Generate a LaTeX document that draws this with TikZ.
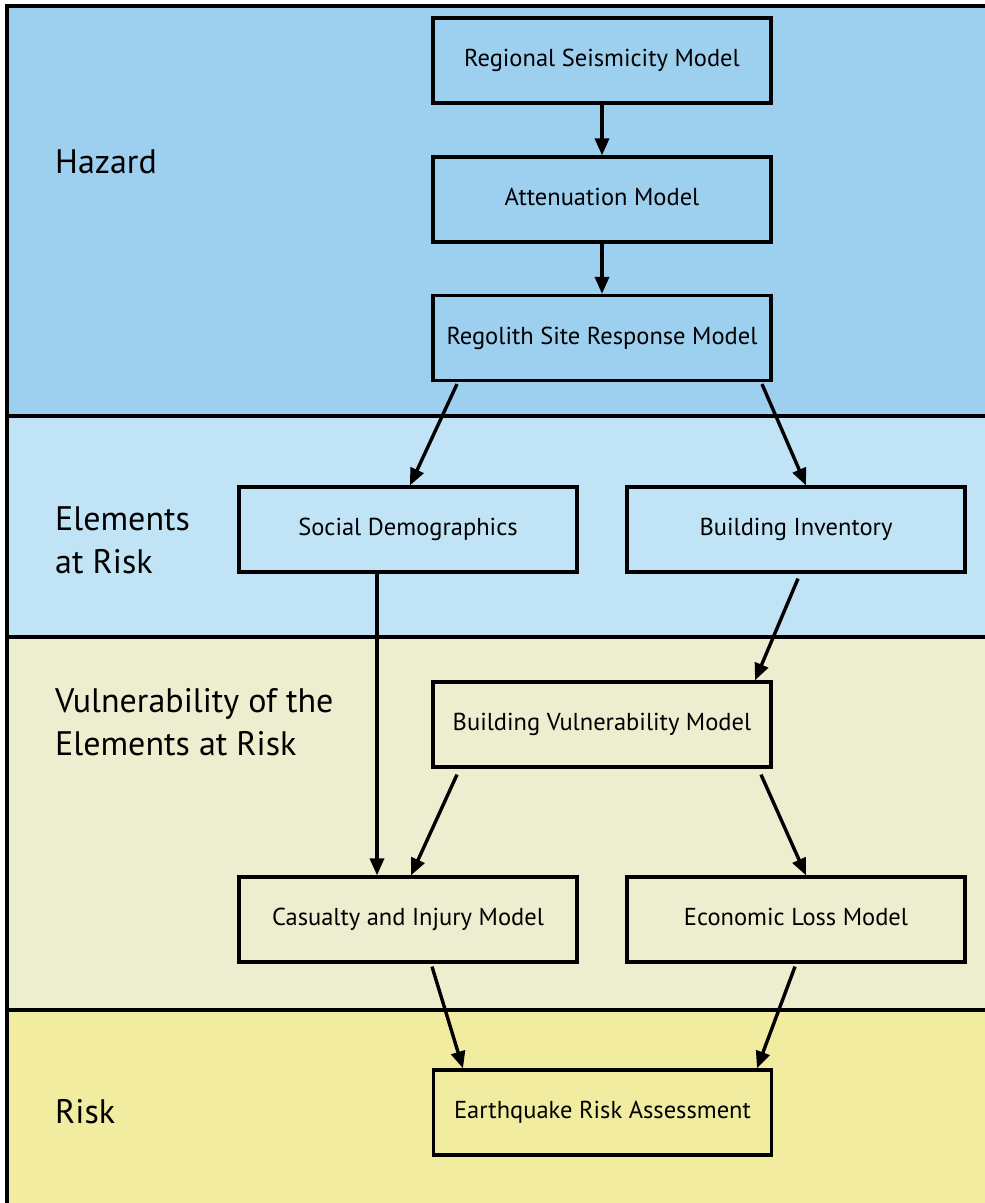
\documentclass[tikz,border=0pt]{standalone}
\usepackage{fontspec}
\setmainfont{PT Sans}
\usetikzlibrary{arrows.meta}
\definecolor{hazc}{RGB}{157,207,238}
\definecolor{elc}{RGB}{192,227,245}
\definecolor{vulc}{RGB}{237,238,208}
\definecolor{riskc}{RGB}{241,236,160}
\tikzset{
  box/.style={draw=black, line width=3.2pt, minimum width=338, minimum height=85, inner sep=0pt, font=\fontsize{24.5}{28}\selectfont, text height=17pt, text depth=5pt},
  lbl/.style={anchor=base west, inner sep=0pt, align=left, font=\fontsize{34}{43}\selectfont},
  arr/.style={line width=3.4pt, -{Triangle[length=17pt,width=14pt]}},
  band/.style={line width=3.2pt}
}
\begin{document}
\begin{tikzpicture}[x=1pt,y=-1pt]
\useasboundingbox (0,0) rectangle (985,1203);
% bands
\fill[hazc] (7,6) rectangle (985,416);
\fill[elc] (7,416) rectangle (985,637);
\fill[vulc] (7,637) rectangle (985,1010);
\fill[riskc] (7,1010) rectangle (985,1203);
\draw[band] (985,6) -- (7,6) -- (7,1203);
\draw[band] (7,416) -- (985,416);
\draw[band] (7,637) -- (985,637);
\draw[band] (7,1010) -- (985,1010);
% labels
\node[lbl] (lhaz) at (55,173) {Hazard};
\node[lbl] (lel) at (55,573) {Elements\\at Risk};
\node[lbl] (lvul) at (55,755) {Vulnerability of the\\Elements at Risk};
\node[lbl] (lrisk) at (55,1123) {Risk};
% boxes
\node[box] (r1) at (602,60.5) {Regional Seismicity Model};
\node[box] (r2) at (602,199.5) {Attenuation Model};
\node[box] (r3) at (602,338) {Regolith Site Response Model};
\node[box] (sd) at (408,529.5) {Social Demographics};
\node[box] (bi) at (796,529.5) {Building Inventory};
\node[box] (bv) at (602,724.5) {Building Vulnerability Model};
\node[box] (ci) at (408,919.5) {Casualty and Injury Model};
\node[box] (el) at (796,919.5) {Economic Loss Model};
\node[box] (era) at (602.5,1112.5) {Earthquake Risk Assessment};
% arrows
\draw[arr] (r1.south) -- (r2.north);
\draw[arr] (r2.south) -- (r3.north);
\draw[arr] ([shift={(-145,2)}]r3.south) -- ([shift={(2,0)}]sd.north);
\draw[arr] ([shift={(160,2)}]r3.south) -- ([shift={(10,0)}]bi.north);
\draw[arr] ([shift={(-31,0)}]sd.south) -- ([shift={(-31,0)}]ci.north);
\draw[arr] ([shift={(2,5)}]bi.south) -- ([shift={(153,0)}]bv.north);
\draw[arr] ([shift={(-145,6)}]bv.south) -- ([shift={(3,0)}]ci.north);
\draw[arr] ([shift={(159,6)}]bv.south) -- ([shift={(10,0)}]el.north);
\draw[arr] ([shift={(24,3)}]ci.south) -- ([shift={(-139.5,0)}]era.north);
\draw[arr] ([shift={(-1,3)}]el.south) -- ([shift={(154.5,0)}]era.north);
\end{tikzpicture}
\end{document}
